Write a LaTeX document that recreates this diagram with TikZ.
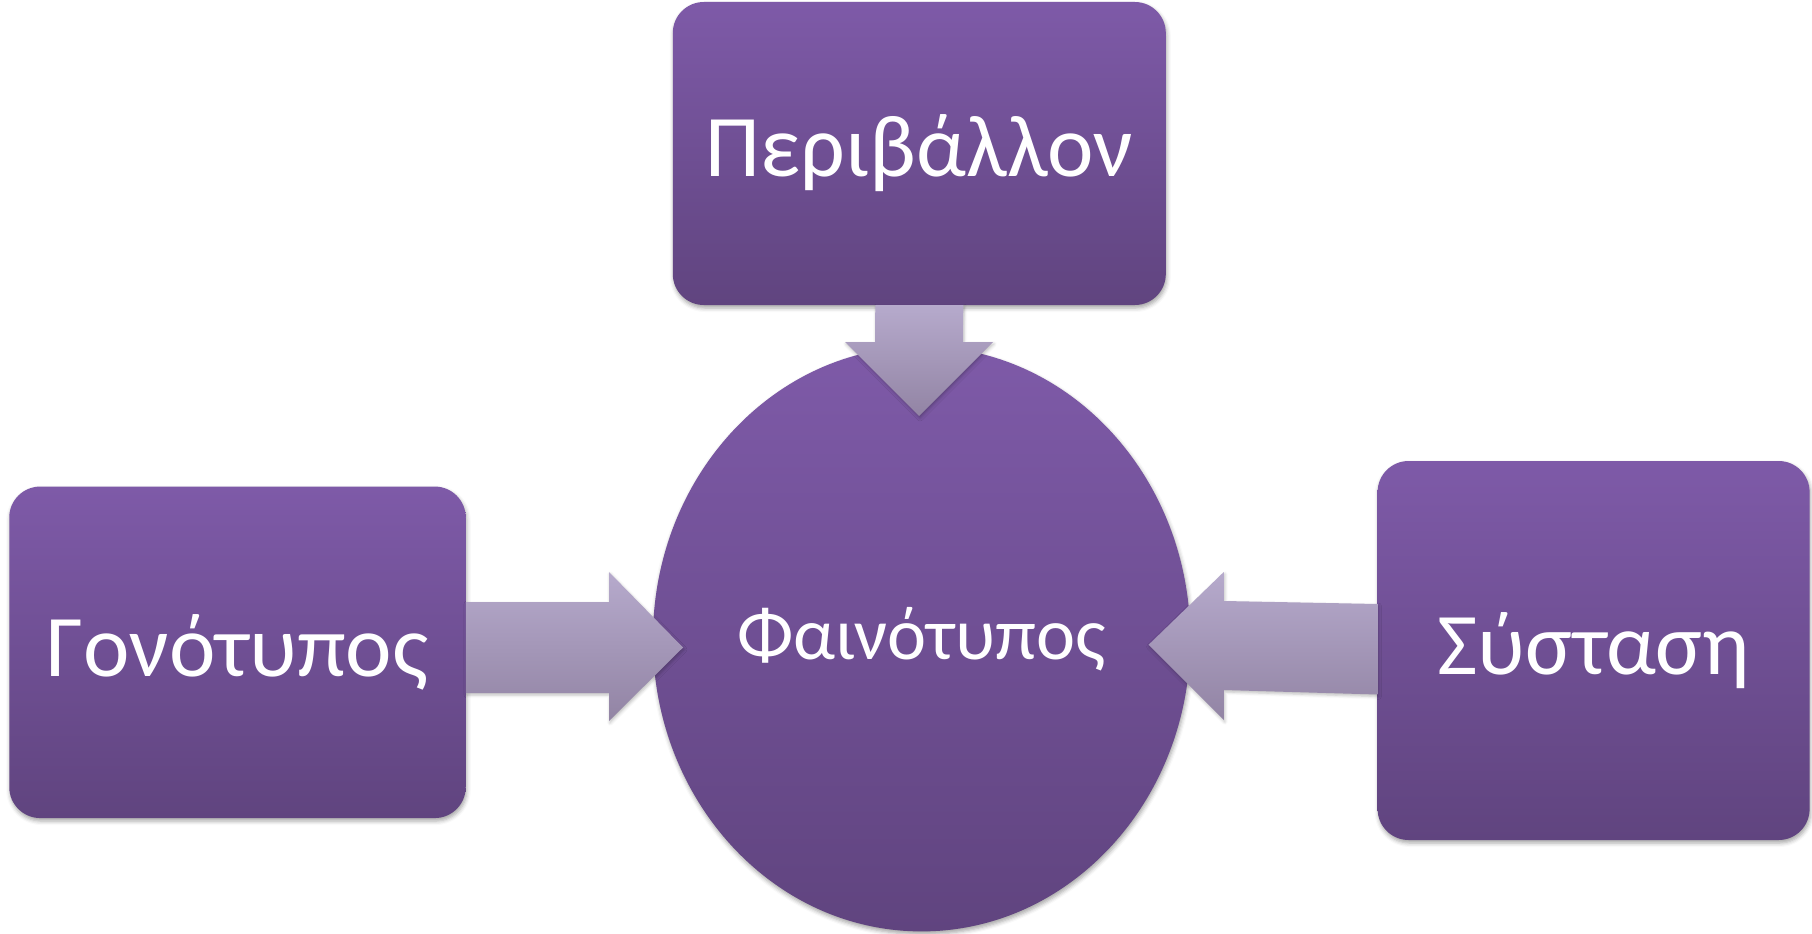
\documentclass[tikz,border=0pt]{standalone}
\usepackage{fontspec}
\setmainfont{Carlito}
\usetikzlibrary{shapes.geometric,shadows.blur,calc}

\definecolor{boxtop}{RGB}{126,90,168}
\definecolor{boxbot}{RGB}{96,68,127}
\definecolor{arrtop}{RGB}{182,170,204}
\definecolor{arrbot}{RGB}{146,132,164}

\tikzset{
  card/.style={rectangle, rounded corners=31pt, inner sep=0pt,
    top color=boxtop, bottom color=boxbot, draw=none,
    text=white, font=\fontsize{88}{100}\selectfont,
    blur shadow={shadow xshift=1pt, shadow yshift=-3pt,
      shadow blur radius=4pt, shadow opacity=35}},
  core/.style={ellipse, inner sep=0pt,
    top color=boxtop, bottom color=boxbot, draw=none,
    blur shadow={shadow xshift=1pt, shadow yshift=-3pt,
      shadow blur radius=4pt, shadow opacity=35}},
  coretext/.style={text=white, font=\fontsize{74}{84}\selectfont},
  blockarrow/.style={top color=arrtop, bottom color=arrbot, draw=none,
    blur shadow={shadow xshift=1pt, shadow yshift=-2pt,
      shadow blur radius=3pt, shadow opacity=25}}
}

\begin{document}
\begin{tikzpicture}[x=1pt, y=-1pt]
  \useasboundingbox (0,0) rectangle (1812,934);

  % central trait
  \node[core, minimum width=537.4pt, minimum height=584.8pt,
        label={[coretext, name=phentext]center:Φαινότυπος}] (phen) at (921.6,639) {};

  % three influences
  \node[card, minimum width=493pt, minimum height=303pt] (env) at (919.3,153.5) {Περιβάλλον};
  \node[card, minimum width=456.5pt, minimum height=331.5pt] (gen) at (237.5,652.3) {Γονότυπος};
  \node[card, minimum width=432pt, minimum height=379pt] (comp) at (1593.6,650.5) {Σύσταση};

  % arrow tips resting on the central ellipse
  \coordinate (tipT) at (919,416);
  \coordinate (tipL) at (683,647.5);
  \coordinate (tipR) at (1148.6,644.8);

  % environment -> phenotype
  \path[blockarrow]
    ($(env.south)+(-44,0)$) -- ($(env.south)+(44,0)$)
    -- ($(tipT)+(44,-74)$) -- ($(tipT)+(74,-74)$) -- (tipT)
    -- ($(tipT)+(-74,-74)$) -- ($(tipT)+(-44,-74)$) -- cycle;

  % genotype -> phenotype
  \path[blockarrow]
    ($(gen.east)+(0,-50.3)$) -- ($(tipL)+(-74,-45.5)$)
    -- ($(tipL)+(-74,-75.5)$) -- (tipL) -- ($(tipL)+(-74,73.5)$)
    -- ($(tipL)+(-74,45.5)$) -- ($(gen.east)+(0,40.7)$) -- cycle;

  % composition -> phenotype
  \path[blockarrow]
    ($(comp.west)+(0,-46.5)$) -- ($(tipR)+(75.2,-43.8)$)
    -- ($(tipR)+(75.2,-72.8)$) -- (tipR) -- ($(tipR)+(75.2,75.2)$)
    -- ($(tipR)+(75.2,45.2)$) -- ($(comp.west)+(0,44)$) -- cycle;
\end{tikzpicture}
\end{document}
